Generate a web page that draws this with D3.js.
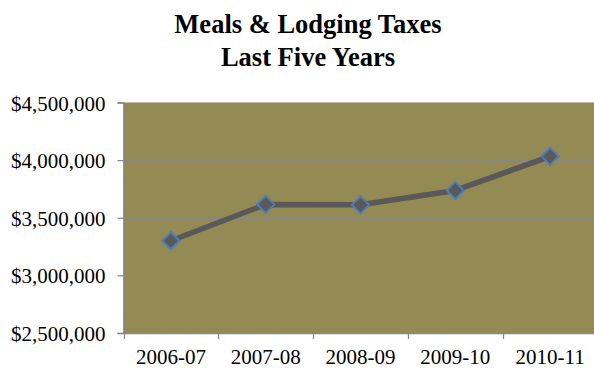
<!DOCTYPE html>
<html>
<head>
<meta charset="utf-8">
<script src="https://cdn.jsdelivr.net/npm/d3@7"></script>
<style>
  html, body { margin: 0; padding: 0; background: #ffffff; overflow: hidden; }
  svg { display: block; }
</style>
</head>
<body>
<svg id="chart" width="594" height="368"></svg>
<script>
// Fiscal years and tax receipts
const years = ["2006-07", "2007-08", "2008-09", "2009-10", "2010-11"];
const receipts = [3300000, 3616000, 3612000, 3737000, 4033000];
const yTicks = [2500000, 3000000, 3500000, 4000000, 4500000];
const titleLines = ["Meals & Lodging Taxes", "Last Five Years"];

const svg = d3.select("#chart");
const plot = { left: 123.5, right: 597.5, top: 102.5, bottom: 333 };

const x = d3.scaleBand().domain(years).range([plot.left, plot.right]).paddingInner(0).paddingOuter(0);
const y = d3.scaleLinear().domain([2500000, 4500000]).range([plot.bottom, plot.top]);

const gridColor = "#878787";
const font = "'Liberation Serif', 'Times New Roman', serif";

// Title
svg.append("g").selectAll("text").data(titleLines).join("text")
  .attr("x", 308).attr("y", (d, i) => 33 + i * 33)
  .attr("text-anchor", "middle")
  .attr("font-family", font).attr("font-weight", "bold").attr("font-size", 26.5)
  .attr("fill", "#000")
  .text(d => d);

// Plot background
svg.append("rect")
  .attr("x", plot.left).attr("y", plot.top)
  .attr("width", plot.right - plot.left).attr("height", plot.bottom - plot.top)
  .attr("fill", "#948a54");

// Horizontal gridlines
svg.append("g").selectAll("line").data(yTicks.slice(1)).join("line")
  .attr("x1", plot.left).attr("x2", plot.right)
  .attr("y1", d => Math.round(y(d)) + 0.5).attr("y2", d => Math.round(y(d)) + 0.5)
  .attr("stroke", gridColor).attr("stroke-width", 1.2);

// Y axis
const yAxis = d3.axisLeft(y).tickValues(yTicks).tickSize(6).tickPadding(12)
  .tickFormat(d => "$" + d3.format(",")(d));
const gy = svg.append("g").attr("transform", `translate(${plot.left},0)`).call(yAxis);
gy.select(".domain").attr("stroke", gridColor).attr("stroke-width", 1.5);
gy.selectAll(".tick line").attr("stroke", gridColor).attr("stroke-width", 1.2);
gy.selectAll(".tick text")
  .attr("font-family", font).attr("font-size", 21).attr("fill", "#000")
  .attr("dy", "0.36em");

// X axis: ticks at category boundaries
const xAxis = d3.axisBottom(x).tickSize(0).tickPadding(16);
const gx = svg.append("g").attr("transform", `translate(0,${plot.bottom})`).call(xAxis);
gx.select(".domain").attr("stroke", gridColor).attr("stroke-width", 1.5);
gx.selectAll(".tick text")
  .attr("font-family", font).attr("font-size", 21).attr("fill", "#000");
const boundaries = years.map(d => x(d));
gx.append("g").selectAll("line").data(boundaries).join("line")
  .attr("x1", d => Math.round(d) + 0.5).attr("x2", d => Math.round(d) + 0.5)
  .attr("y1", 0).attr("y2", 6)
  .attr("stroke", gridColor).attr("stroke-width", 1.2);

// Line series
const cx = d => x(d) + x.bandwidth() / 2;
const pts = years.map((d, i) => [cx(d), y(receipts[i])]);
svg.append("path")
  .datum(pts)
  .attr("d", d3.line())
  .attr("fill", "none")
  .attr("stroke", "#595959")
  .attr("stroke-width", 5.5)
  .attr("stroke-linejoin", "round");

// Diamond markers
const diamond = d3.symbol().type(d3.symbolDiamond2).size(185);
svg.append("g").selectAll("path").data(pts).join("path")
  .attr("transform", d => `translate(${d[0]},${d[1]})`)
  .attr("d", diamond)
  .attr("fill", "#595959")
  .attr("stroke", "#4a7ebb")
  .attr("stroke-width", 2);
</script>
</body>
</html>
